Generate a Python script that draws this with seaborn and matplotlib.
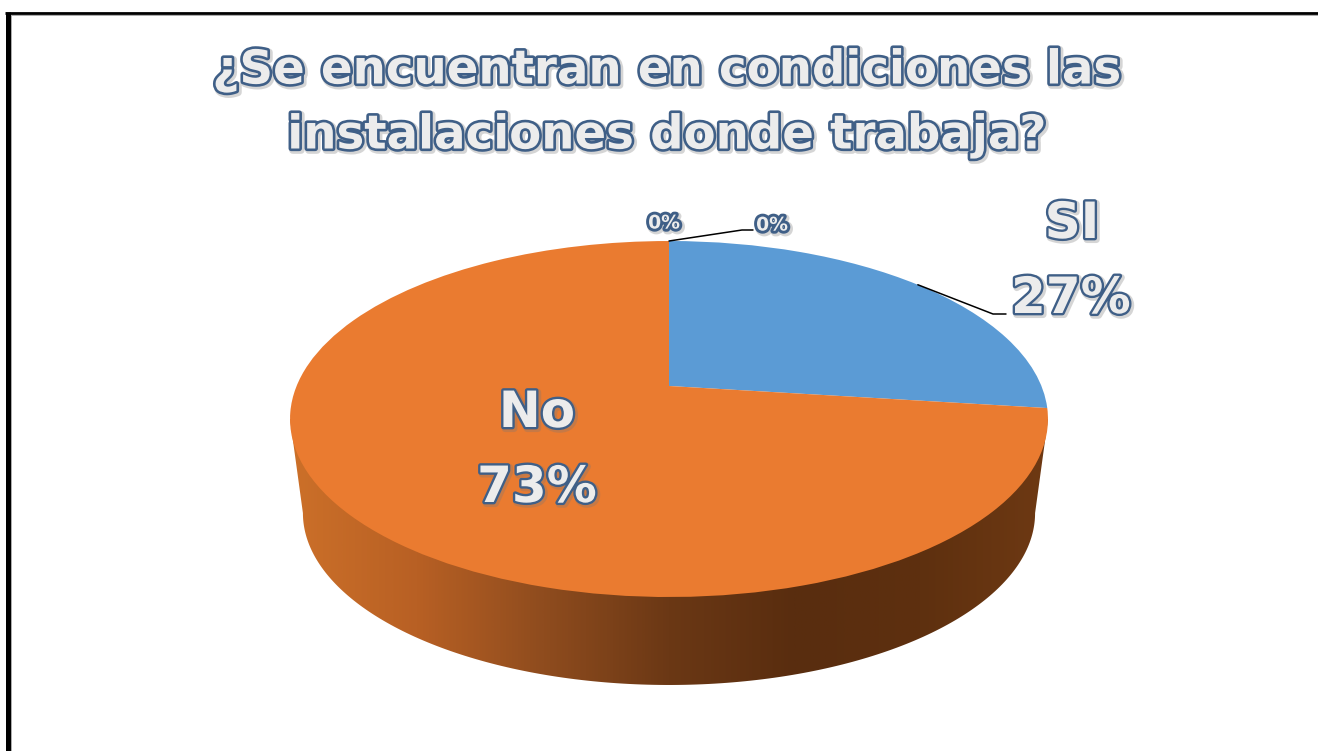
import numpy as np
import seaborn as sns
import matplotlib.pyplot as plt
import matplotlib.patheffects as pe
from matplotlib.patches import Polygon
from matplotlib.transforms import Transform

# datos de la encuesta
categories = ['SI', 'No', '', '']
values = [27, 73, 0, 0]
colors = ['#5B9BD5', '#EA7B30', '#A5A5A5', '#FFC000']
title_lines = ['¿Se encuentran en condiciones las', 'instalaciones donde trabaja?']

# gradiente de la pared lateral, de izquierda a derecha
wall_colors = ['#CC7029', '#B86024', '#8F4C1E', '#6B3815', '#592D0F', '#5E300F', '#6E3913']

# geometria de la tarta en pixeles
CX, CY = 669, 386
KX = 372.4
PB, PC = -100.3, 0.1854
INK = '#3F5F87'
FILL = '#ECECEC'


class PiePerspective(Transform):
    # circulo unidad -> elipse en perspectiva, en pixeles de la figura
    input_dims = 2
    output_dims = 2

    def transform_non_affine(self, xy):
        xy = np.asarray(xy, dtype=float)
        den = 1 + PC * xy[:, 1]
        return np.column_stack([CX + KX * xy[:, 0] / den, (CY + PB * xy[:, 1]) / den])


def outlined(lw):
    return [
        pe.Stroke(linewidth=lw + 1.5, foreground='#777777', alpha=0.3, offset=(1.2, -1.2)),
        pe.Stroke(linewidth=lw, foreground=INK),
        pe.Normal(),
    ]


sns.set_theme(style='white')
plt.rcParams['font.family'] = ['DejaVu Sans']
persp = PiePerspective()

fig = plt.figure(figsize=(13.18, 7.51), dpi=100, facecolor='white')
ax = fig.add_axes([0, 0, 1, 1])

wedges, _ = ax.pie(values, colors=sns.color_palette(colors), startangle=90, counterclock=False,
                   wedgeprops={'linewidth': 0})
ax.set_aspect('auto')
for w in wedges:
    w.set_transform(persp + ax.transData)
    w.set_zorder(3)

# pared lateral: gradiente recortado con la silueta
widest = np.arcsin(PC)
t = np.linspace(np.pi + widest, 2 * np.pi - widest, 200)
rim = persp.transform_non_affine(np.column_stack([np.cos(t), np.sin(t)]))
scale = 0.966
low_x = CX + (rim[:, 0] - CX) * scale
low_y = 419 + (rim[:, 1] - 419) * scale + (685 - (419 + (597 - 419) * scale))
outline = np.vstack([[[290, 419]], np.column_stack([low_x, low_y]), [[1048, 419]]])
clip = Polygon(outline, closed=True, transform=ax.transData, facecolor='none', edgecolor='none')
ax.add_patch(clip)
cmap = sns.blend_palette(wall_colors, n_colors=256, as_cmap=True)
grad = ax.imshow(np.linspace(0, 1, 512)[None, :], extent=(290, 1048, 690, 400), cmap=cmap,
                 aspect='auto', zorder=2)
grad.set_clip_path(clip)
ax.set_xlim(0, 1318)
ax.set_ylim(751, 0)

# titulo
for line, y in zip(title_lines, [71, 136]):
    ax.text(666, y, line, ha='center', va='center', fontsize=33.6, fontweight='bold',
            color=FILL, path_effects=outlined(3.8), zorder=6)


# lineas guia, ancladas al punto medio de cada sector
def rim_anchor(start, val):
    ang = np.deg2rad((start + val / 2) * 3.6)
    return persp.transform_non_affine(np.array([[np.sin(ang), np.cos(ang)]]))[0]


si_anchor = rim_anchor(0, values[0])
zero_anchor = rim_anchor(100, values[2])
ax.plot([si_anchor[0], 993, 1006], [si_anchor[1], 314, 314], color='black', lw=1.1, zorder=5)
ax.plot([zero_anchor[0], 742, 753], [zero_anchor[1], 230, 230], color='black', lw=1.1, zorder=5)

# etiquetas de datos
big = dict(ha='center', va='center', fontsize=36, fontweight='bold', color=FILL, zorder=6,
           path_effects=outlined(3.4))
ax.text(1072, 224, categories[0], **big)
ax.text(1071, 299, f'{values[0]}%', **big)
ax.text(537, 413, categories[1], **big)
ax.text(537, 488, f'{values[1]}%', **big)
small = dict(ha='center', va='center', fontsize=13.5, fontweight='bold', color=FILL, zorder=6,
             path_effects=outlined(4.2))
ax.text(664, 223, f'{values[2]}%', **small)
ax.text(772, 225, f'{values[3]}%', **small)

# marco negro con sombra gris
ax.plot([11, 11], [15, 751], color='#AAAAAA', lw=0.7, zorder=7)
ax.plot([11, 1318], [15.2, 15.2], color='#AAAAAA', lw=0.7, zorder=7)
ax.plot([7.5, 7.5], [12, 751], color='black', lw=3.6, solid_capstyle='butt', zorder=8)
ax.plot([5, 1318], [13.2, 13.2], color='black', lw=2, solid_capstyle='butt', zorder=8)

fig.savefig('out.png', dpi=100)
